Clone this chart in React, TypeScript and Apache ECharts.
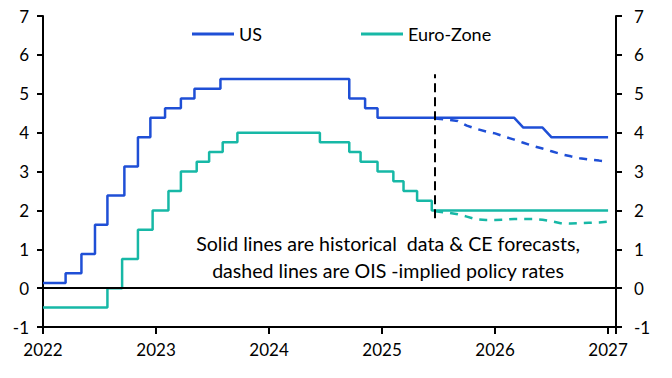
import React, { useEffect, useRef } from "react";
import * as echarts from "echarts";

// ---- data (decimal years) ----
const usChangeDates = [2022.0, 2022.2, 2022.34, 2022.46, 2022.57, 2022.72, 2022.84, 2022.95, 2023.08, 2023.22, 2023.34, 2023.57, 2024.71, 2024.85, 2024.96];
const usRates = [0.13, 0.38, 0.88, 1.63, 2.38, 3.13, 3.88, 4.38, 4.63, 4.88, 5.13, 5.38, 4.88, 4.63, 4.38];
const usForecastDates = [2026.17, 2026.25, 2026.42, 2026.5, 2027.0];
const usForecastRates = [4.38, 4.13, 4.13, 3.88, 3.88];

const ezChangeDates = [2022.0, 2022.57, 2022.7, 2022.84, 2022.97, 2023.11, 2023.22, 2023.36, 2023.47, 2023.59, 2023.72, 2024.45, 2024.71, 2024.81, 2024.96, 2025.1, 2025.19, 2025.31, 2025.44];
const ezRates = [-0.5, 0, 0.75, 1.5, 2.0, 2.5, 3.0, 3.25, 3.5, 3.75, 4.0, 3.75, 3.5, 3.25, 3.0, 2.75, 2.5, 2.25, 2.0];
const ezForecastDates = [2027.0];
const ezForecastRates = [2.0];

const oisDates = [2025.47, 2025.58, 2025.67, 2025.75, 2025.83, 2025.92, 2026.0, 2026.08, 2026.17, 2026.25, 2026.33, 2026.42, 2026.5, 2026.58, 2026.67, 2026.75, 2026.83, 2026.92, 2027.0];
const usOis = [4.36, 4.33, 4.3, 4.18, 4.1, 4.03, 3.98, 3.9, 3.82, 3.74, 3.66, 3.59, 3.52, 3.45, 3.39, 3.34, 3.31, 3.28, 3.25];
const ezOis = [1.98, 1.94, 1.9, 1.84, 1.77, 1.75, 1.75, 1.76, 1.78, 1.78, 1.78, 1.76, 1.72, 1.67, 1.66, 1.67, 1.68, 1.69, 1.71];

const xTicks = [2022, 2023, 2024, 2025, 2026, 2027];
const xMin = 2022;
const xMax = 2027.07;
const yMin = -1;
const yMax = 7;
const cutoffDate = 2025.47;
const cutoffLow = 1.8;
const cutoffHigh = 5.5;

const note = "Solid lines are historical  data & CE forecasts,\ndashed lines are OIS -implied policy rates";

const BLUE = "#1f4fd6";
const TEAL = "#17b8a6";
const FONT = "Lato";

function buildSteps(dates: number[], rates: number[], fDates: number[], fRates: number[]) {
  const pts: number[][] = [];
  dates.forEach((d, i) => {
    if (i > 0) pts.push([d, rates[i - 1]]);
    pts.push([d, rates[i]]);
  });
  fDates.forEach((d, i) => pts.push([d, fRates[i]]));
  return pts;
}

export default function App() {
  const ref = useRef<HTMLDivElement>(null);
  useEffect(() => {
    if (!ref.current) return;
    const chart = echarts.init(ref.current, undefined, { renderer: "svg" });
    const axisLabel = { color: "#000", fontFamily: FONT, fontSize: 17 };
    const yAxisCommon = {
      type: "value",
      min: yMin,
      max: yMax,
      interval: 1,
      splitLine: { show: false },
      axisLine: { show: true, lineStyle: { color: "#000", width: 2 } },
      axisTick: { show: true, inside: false, length: 6, lineStyle: { color: "#000", width: 2 } },
    };
    const legendCommon = {
      top: 20,
      icon: "rect",
      itemWidth: 42,
      itemHeight: 3,
      textStyle: { color: "#000", fontFamily: FONT, fontSize: 18 },
    };
    chart.setOption({
      animation: false,
      grid: { left: 43, right: 56, top: 16, bottom: 51, containLabel: false },
      legend: [
        { ...legendCommon, data: ["US"], left: 187 },
        { ...legendCommon, data: ["Euro-Zone"], left: 356 },
      ],
      xAxis: {
        type: "value",
        min: xMin,
        max: xMax,
        interval: 1,
        splitLine: { show: false },
        axisLine: { show: true, onZero: false, lineStyle: { color: "#000", width: 2 } },
        axisTick: { show: true, length: 7, lineStyle: { color: "#000", width: 2 } },
        axisLabel: {
          ...axisLabel,
          margin: 14,
          formatter: (v: number) => (xTicks.includes(v) ? String(v) : ""),
        },
      },
      yAxis: [
        { ...yAxisCommon, position: "left", axisLabel: { ...axisLabel, margin: 14 } },
        { ...yAxisCommon, position: "right", axisLabel: { ...axisLabel, margin: 18 } },
      ],
      graphic: [
        {
          type: "text",
          x: 388,
          y: 230,
          style: {
            text: note,
            textAlign: "center",
            fill: "#000",
            fontFamily: FONT,
            fontSize: 19.6,
            lineHeight: 27,
          },
        },
      ],
      series: [
        {
          name: "US",
          type: "line",
          symbol: "none",
          data: buildSteps(usChangeDates, usRates, usForecastDates, usForecastRates),
          lineStyle: { color: BLUE, width: 2.5 },
          itemStyle: { color: BLUE },
          z: 3,
        },
        {
          name: "Euro-Zone",
          type: "line",
          symbol: "none",
          data: buildSteps(ezChangeDates, ezRates, ezForecastDates, ezForecastRates),
          lineStyle: { color: TEAL, width: 2.5 },
          itemStyle: { color: TEAL },
          z: 3,
          markLine: {
            silent: true,
            symbol: "none",
            label: { show: false },
            z: 5,
            data: [
              [
                { coord: [xMin, 0], lineStyle: { color: "#000", width: 2, type: "solid" } },
                { coord: [xMax, 0] },
              ],
              [
                { coord: [cutoffDate, cutoffLow], lineStyle: { color: "#000", width: 2, type: [9, 5] } },
                { coord: [cutoffDate, cutoffHigh] },
              ],
            ],
          },
        },
        {
          name: "US OIS",
          type: "line",
          symbol: "none",
          data: oisDates.map((d, i) => [d, usOis[i]]),
          lineStyle: { color: BLUE, width: 2.5, type: [8, 7] },
          z: 2,
        },
        {
          name: "Euro-Zone OIS",
          type: "line",
          symbol: "none",
          data: oisDates.map((d, i) => [d, ezOis[i]]),
          lineStyle: { color: TEAL, width: 2.5, type: [8, 7] },
          z: 2,
        },
      ],
    });
    return () => chart.dispose();
  }, []);
  return <div ref={ref} style={{ width: 672, height: 378, position: "absolute", left: 0, top: 0 }} />;
}
